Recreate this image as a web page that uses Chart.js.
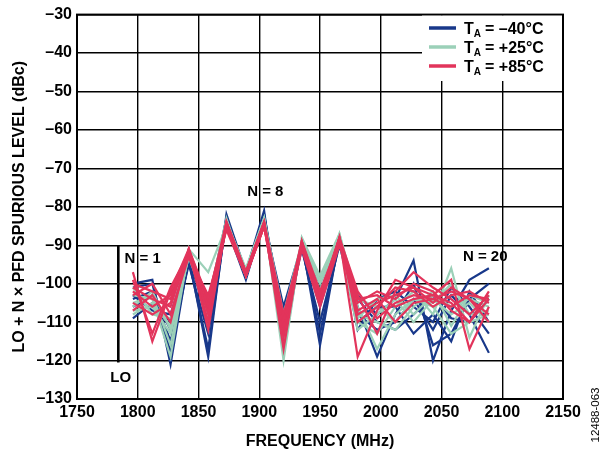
<!DOCTYPE html>
<html>
<head>
<meta charset="utf-8">
<script src="https://cdn.jsdelivr.net/npm/chart.js@4.4.1/dist/chart.umd.min.js"></script>
<style>
  html, body { margin: 0; padding: 0; background: #fff; }
  #wrap { position: relative; width: 602px; height: 451px; }
</style>
</head>
<body>
<div id="wrap"><canvas id="c" width="602" height="451"></canvas></div>
<script>
// ---- Data ----
const frequencies = [1796, 1812, 1827, 1842, 1858, 1873, 1889, 1904, 1920, 1935,
                     1950, 1966, 1981, 1997, 2012, 2027, 2043, 2058, 2073, 2089];

const blueSeries = [
  [-100,-99,-121,-93,-119,-82,-97,-81,-118,-89,-116,-88,-103,-108,-104,-94,-120,-107,-99,-96],
  [-101,-100,-118,-94,-117,-83,-98,-82,-115,-90,-113,-89,-106,-119,-108,-100,-116,-113,-104,-100],
  [-104,-102,-115,-95,-113,-84,-98,-83,-112,-91,-110,-90,-108,-112,-110,-104,-112,-103,-108,-118],
  [-106,-103,-112,-93,-110,-84,-97,-82,-110,-90,-106,-89,-110,-106,-106,-113,-108,-115,-102,-110],
  [-109,-105,-110,-94,-107,-85,-99,-83,-108,-91,-103,-89,-104,-110,-112,-108,-103,-109,-110,-104],
  [-103,-107,-108,-93,-105,-83,-97,-84,-106,-90,-100,-88,-112,-104,-102,-106,-110,-101,-106,-113]
];
const greenSeries = [
  [-103,-104,-119,-91,-108,-84,-97,-83,-120,-88,-98,-87,-106,-117,-108,-104,-105,-100,-108,-107],
  [-105,-103,-116,-92,-106,-85,-98,-84,-117,-89,-102,-88,-110,-113,-106,-102,-108,-96,-114,-103],
  [-107,-106,-113,-93,-104,-84,-96,-83,-114,-90,-105,-89,-112,-108,-104,-110,-104,-108,-105,-110],
  [-108,-105,-111,-91,-97,-85,-97,-84,-112,-89,-100,-88,-108,-110,-112,-106,-102,-111,-103,-105],
  [-101,-108,-109,-92,-105,-83,-98,-84,-110,-90,-104,-87,-104,-106,-110,-104,-106,-113,-110,-108],
  [-106,-102,-112,-93,-107,-85,-97,-83,-108,-89,-99,-88,-109,-104,-103,-108,-103,-106,-104,-106]
];
const redSeries = [
  [-97,-115,-102,-91,-112,-84,-97,-84,-117,-89,-105,-88,-119,-107,-99,-101,-103,-99,-117,-106],
  [-99,-113,-101,-92,-108,-85,-98,-85,-114,-90,-104,-89,-103,-113,-102,-97,-101,-104,-108,-103],
  [-100,-102,-104,-93,-106,-85,-97,-84,-112,-90,-103,-88,-107,-104,-110,-105,-104,-102,-104,-110],
  [-101,-104,-106,-91,-104,-84,-98,-85,-110,-89,-102,-89,-105,-102,-104,-100,-102,-107,-110,-104],
  [-102,-106,-103,-92,-110,-85,-97,-84,-108,-90,-104,-88,-110,-106,-101,-102,-106,-103,-102,-105],
  [-103,-100,-108,-93,-103,-86,-98,-85,-113,-91,-106,-90,-104,-103,-106,-104,-103,-105,-110,-102],
  [-105,-108,-105,-92,-107,-84,-97,-84,-111,-89,-103,-89,-108,-105,-103,-101,-105,-101,-104,-108],
  [-107,-103,-110,-91,-105,-85,-98,-85,-109,-90,-105,-88,-102,-109,-105,-103,-104,-106,-103,-104]
];

const legendLabels = ['= \u201340\u00B0C', '= +25\u00B0C', '= +85\u00B0C'];
const xTicks = [1750, 1800, 1850, 1900, 1950, 2000, 2050, 2100, 2150];
const yTicks = [-130, -120, -110, -100, -90, -80, -70, -60, -50, -40, -30];
const loMarker = { x: 1784, yTop: -90, yBottom: -120.5 };
const annotations = [
  { text: 'N = 1', x: 1804, y: -93.5 },
  { text: 'N = 8', x: 1905, y: -76 },
  { text: 'N = 20', x: 2086, y: -93 },
  { text: 'LO', x: 1786, y: -124.5 }
];

// ---- Styles ----
const COLORS = { blue: '#18388a', green: '#9bd0b8', red: '#e2345b' };
const FONT = "'Liberation Sans', Arial, Helvetica, sans-serif";

function mk(series, color) {
  return series.map(vals => ({
    data: vals.map((v, i) => ({ x: frequencies[i], y: v })),
    borderColor: color,
    backgroundColor: color,
    borderWidth: 2.2,
    pointRadius: 0,
    tension: 0,
    fill: false
  }));
}

// Chart.js paints the first dataset on top, so red comes first.
const datasets = [
  ...mk(redSeries, COLORS.red),
  ...mk(greenSeries, COLORS.green),
  ...mk(blueSeries, COLORS.blue)
];

const decor = {
  id: 'decor',
  beforeDatasetsDraw(chart) {
    const { ctx, scales: { x, y } } = chart;
    ctx.save();
    ctx.strokeStyle = '#000';
    ctx.lineWidth = 2.6;
    ctx.beginPath();
    ctx.moveTo(x.getPixelForValue(loMarker.x), y.getPixelForValue(loMarker.yTop));
    ctx.lineTo(x.getPixelForValue(loMarker.x), y.getPixelForValue(loMarker.yBottom));
    ctx.stroke();
    ctx.restore();
  },
  afterDatasetsDraw(chart) {
    const { ctx, chartArea: a, scales: { x, y } } = chart;
    ctx.save();
    // frame
    ctx.strokeStyle = '#000';
    ctx.lineWidth = 2;
    ctx.strokeRect(a.left, a.top, a.right - a.left, a.bottom - a.top);

    // annotations
    ctx.fillStyle = '#000';
    ctx.font = 'bold 15px ' + FONT;
    ctx.textAlign = 'center';
    ctx.textBaseline = 'middle';
    annotations.forEach(an => {
      ctx.fillText(an.text, x.getPixelForValue(an.x), y.getPixelForValue(an.y));
    });

    // legend box
    ctx.fillStyle = '#fff';
    ctx.fillRect(422, a.top + 1, a.right - 1 - 422, 81 - a.top - 1);
    const colors = [COLORS.blue, COLORS.green, COLORS.red];
    const rows = [28, 47, 66];
    rows.forEach((ry, i) => {
      ctx.strokeStyle = colors[i];
      ctx.lineWidth = 3.5;
      ctx.beginPath();
      ctx.moveTo(429, ry);
      ctx.lineTo(456, ry);
      ctx.stroke();
      ctx.fillStyle = '#000';
      ctx.textAlign = 'left';
      ctx.textBaseline = 'alphabetic';
      let tx = 464;
      const base = ry + 6;
      ctx.font = 'bold 16px ' + FONT;
      ctx.fillText('T', tx, base);
      tx += ctx.measureText('T').width;
      ctx.font = 'bold 10px ' + FONT;
      ctx.fillText('A', tx, base + 3);
      tx += ctx.measureText('A').width + 4;
      ctx.font = 'bold 16px ' + FONT;
      ctx.fillText(legendLabels[i], tx, base);
    });

    // axis titles
    ctx.fillStyle = '#000';
    ctx.font = 'bold 16px ' + FONT;
    ctx.textAlign = 'center';
    ctx.textBaseline = 'middle';
    ctx.fillText('FREQUENCY (MHz)', (a.left + a.right) / 2, 442);
    ctx.save();
    ctx.translate(20, (a.top + a.bottom) / 2);
    ctx.rotate(-Math.PI / 2);
    ctx.fillText('LO + N \u00D7 PFD SPURIOUS LEVEL (dBc)', 0, 0);
    ctx.restore();

    // figure id
    ctx.save();
    ctx.font = '11.5px ' + FONT;
    ctx.translate(596, 415);
    ctx.rotate(-Math.PI / 2);
    ctx.fillText('12488-063', 0, 0);
    ctx.restore();
    ctx.restore();
  }
};

new Chart(document.getElementById('c'), {
  type: 'line',
  data: { datasets },
  plugins: [decor],
  options: {
    responsive: false,
    animation: false,
    events: [],
    layout: { padding: { top: 13, right: 39, left: 0, bottom: 0 } },
    plugins: { legend: { display: false }, tooltip: { enabled: false } },
    scales: {
      x: {
        type: 'linear',
        min: 1750, max: 2150,
        afterBuildTicks: s => { s.ticks = xTicks.map(v => ({ value: v })); },
        afterFit: s => { s.height = 52; },
        grid: { color: '#000', lineWidth: 1.4, drawTicks: false },
        border: { display: false },
        ticks: {
          color: '#000',
          font: { family: FONT, size: 16, weight: 'bold' },
          padding: 4,
          maxRotation: 0,
          autoSkip: false,
          callback: v => String(v)
        }
      },
      y: {
        type: 'linear',
        min: -130, max: -30,
        afterBuildTicks: s => { s.ticks = yTicks.map(v => ({ value: v })); },
        afterFit: s => { s.width = 77; },
        grid: { color: '#000', lineWidth: 1.4, drawTicks: false },
        border: { display: false },
        ticks: {
          color: '#000',
          font: { family: FONT, size: 16, weight: 'bold' },
          padding: 5,
          autoSkip: false,
          callback: v => (v < 0 ? '\u2013' + Math.abs(v) : String(v))
        }
      }
    }
  }
});
</script>
</body>
</html>
